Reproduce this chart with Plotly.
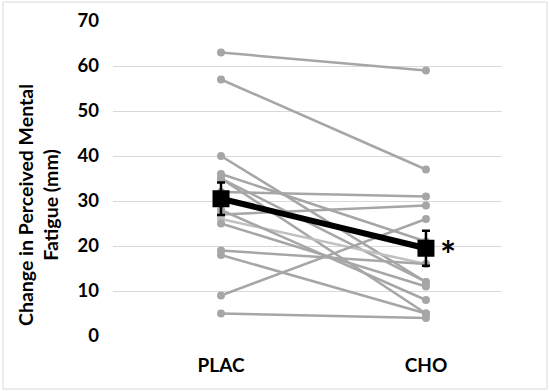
import plotly.graph_objects as go

categories = ["PLAC", "CHO"]
plac = [63, 57, 40, 36, 35, 35, 32, 27, 26, 25, 28, 19, 18, 9, 5]
cho = [59, 37, 12, 21, 12, 5, 31, 29, 16, 11, 8, 16, 5, 26, 4]
light = [False, False, False, False, False, False, False, False, True, False, False, False, False, False, False]
mean_vals = [30.5, 19.5]
sem_vals = [3.6, 3.9]
y_ticks = [0, 10, 20, 30, 40, 50, 60, 70]

xpos = [0, 1]
fig = go.Figure()
for p, c, lt in zip(plac, cho, light):
    col = "#C0C0C0" if lt else "#A6A6A6"
    fig.add_trace(go.Scatter(
        x=xpos, y=[p, c], mode="lines+markers",
        line=dict(color=col, width=2.5),
        marker=dict(color=col, size=8, symbol="circle"),
        showlegend=False, hoverinfo="skip"))

fig.add_trace(go.Scatter(
    x=xpos, y=mean_vals, mode="lines+markers",
    line=dict(color="black", width=6),
    marker=dict(color="black", size=17, symbol="square"),
    error_y=dict(type="data", array=sem_vals, visible=True, color="black",
                 thickness=2.5, width=4),
    showlegend=False))

fig.add_annotation(x=1, y=mean_vals[1], xref="x", yref="y", text="<b>*</b>",
                   showarrow=False, xshift=22, yshift=-6,
                   font=dict(size=38, color="black", family="Lato"))

fig.add_annotation(x=-75 / 389, y=0.416, xref="paper", yref="paper",
                   xanchor="center", yanchor="middle",
                   text="<b>Change in Perceived Mental<br>Fatigue (mm)</b>",
                   textangle=-90, showarrow=False,
                   font=dict(size=19.5, color="black", family="Lato"))

fig.update_layout(
    width=550, height=391,
    margin=dict(l=113, r=48, t=21, b=55),
    paper_bgcolor="white", plot_bgcolor="white",
    font=dict(family="Lato", color="black"),
    xaxis=dict(
        range=[-0.527, 1.371], tickvals=xpos,
        ticktext=["<b>%s</b>" % c for c in categories],
        showgrid=False, zeroline=False, showline=False, automargin=False,
        tickfont=dict(size=19, color="black"), ticks="", ticklen=0,
        ticklabelstandoff=16),
    yaxis=dict(
        range=[0, 70], tickvals=y_ticks,
        ticktext=["<b>%d</b>" % v for v in y_ticks],
        showgrid=True, gridcolor="#D9D9D9", gridwidth=1,
        zeroline=False, showline=False, automargin=False,
        tickfont=dict(size=18.5, color="black"), ticks="", ticklen=0,
        ticklabelstandoff=13),
    shapes=[dict(type="rect", xref="paper", yref="paper",
                 x0=-110/389, x1=1 + 45/389, y0=-53/315, y1=1 + 19/315,
                 line=dict(color="#D9D9D9", width=1))],
)
fig.write_html("out.html", config={"displayModeBar": False},
               post_script="document.body.style.margin='0';document.body.style.overflow='hidden';")
